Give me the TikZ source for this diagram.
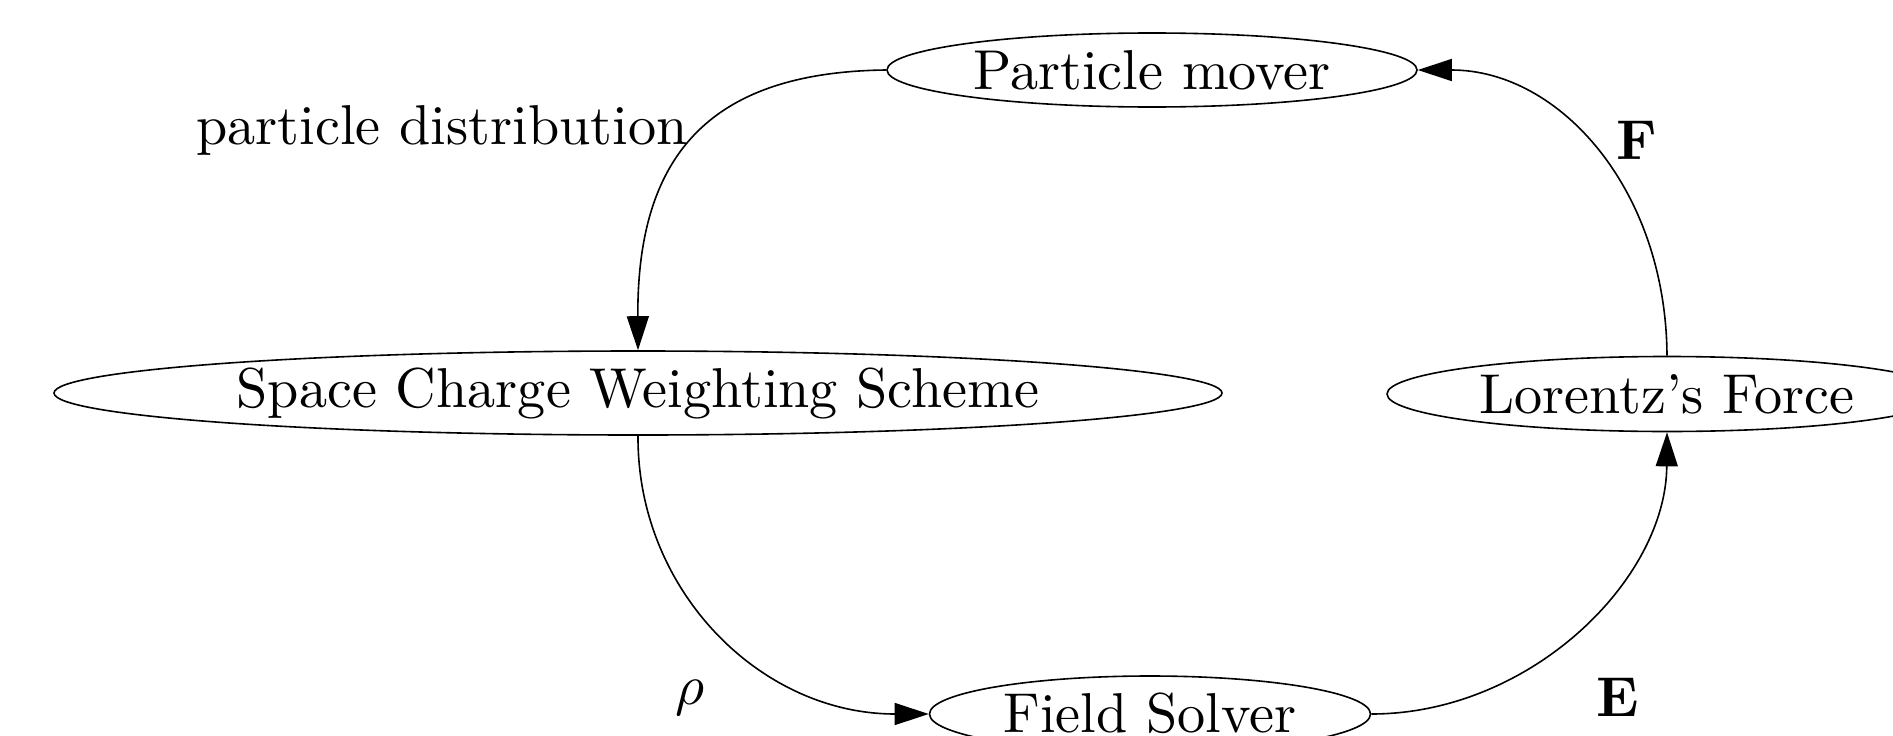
\documentclass[tikz,border=0pt]{standalone}
\usetikzlibrary{shapes.geometric,arrows.meta}
\newcommand{\bigtxt}[1]{\scalebox{5.62}{#1}}
\begin{document}
\begin{tikzpicture}[x=1pt,y=-1pt,
  proc/.style={ellipse,draw,line width=1.6pt,inner sep=0pt,fill=white},
  flow/.style={line width=1.6pt,-{Triangle[length=34pt,width=22pt]}},
  lbl/.style={inner sep=0pt}]
\useasboundingbox (0,0) rectangle (1893,736);
\clip (0,0) rectangle (1893,736);
\node[proc,minimum width=530pt,minimum height=74pt] (pm) at (1152,70) {\bigtxt{Particle mover}};
\node[proc,minimum width=1168pt,minimum height=84pt] (sc) at (638,393) {\bigtxt{Space Charge Weighting Scheme}};
\node[proc,minimum width=560pt,minimum height=75pt] (lf) at (1667,394) {\bigtxt{Lorentz's Force}};
\node[proc,minimum width=441pt,minimum height=76pt] (fs) at (1150,714) {\bigtxt{\raisebox{0.35pt}{Field Solver}}};
\draw[flow] (pm.west) .. controls (705,72) and (637,160) .. (sc.north);
\draw[flow] (sc.south) .. controls (637,590) and (760,714) .. (fs.west);
\draw[flow] (fs.east) .. controls (1530,714) and (1666,580) .. (lf.south);
\draw[flow] (lf.north) .. controls (1666,190) and (1560,70) .. (pm.east);
\node[lbl] (l1) at (442,130) {\bigtxt{particle distribution}};
\node[lbl] (l2) at (690,698) {\bigtxt{$\rho$}};
\node[lbl] (l3) at (1618,697) {\bigtxt{$\mathbf{E}$}};
\node[lbl] (l4) at (1637,140) {\bigtxt{$\mathbf{F}$}};
\end{tikzpicture}
\end{document}
